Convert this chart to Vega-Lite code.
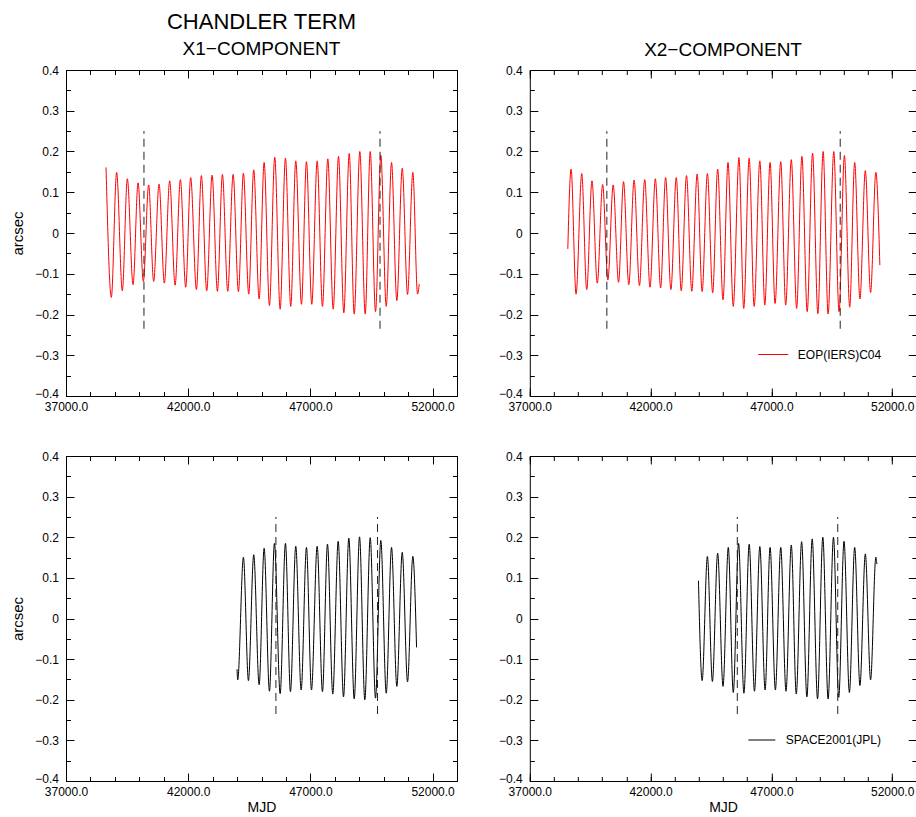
{
  "$schema": "https://vega.github.io/schema/vega-lite/v6.json",
  "background": "white",
  "autosize": {"type": "pad"},
  "padding": {"left": 10, "top": 10, "right": 0, "bottom": 0},
  "datasets": {
    "x1eop": [
      {"mjd": 38638, "v": 0.161}, {"mjd": 38855, "v": -0.158}, {"mjd": 39072, "v": 0.149}, {"mjd": 39305, "v": -0.142},
      {"mjd": 39510, "v": 0.133}, {"mjd": 39744, "v": -0.127}, {"mjd": 39948, "v": 0.123}, {"mjd": 40165, "v": -0.119},
      {"mjd": 40382, "v": 0.118}, {"mjd": 40587, "v": -0.119}, {"mjd": 40808, "v": 0.120}, {"mjd": 41025, "v": -0.123},
      {"mjd": 41242, "v": 0.128}, {"mjd": 41464, "v": -0.128}, {"mjd": 41681, "v": 0.131}, {"mjd": 41898, "v": -0.133},
      {"mjd": 42102, "v": 0.136}, {"mjd": 42336, "v": -0.139}, {"mjd": 42540, "v": 0.141}, {"mjd": 42758, "v": -0.142},
      {"mjd": 42979, "v": 0.142}, {"mjd": 43196, "v": -0.143}, {"mjd": 43401, "v": 0.144}, {"mjd": 43618, "v": -0.143},
      {"mjd": 43839, "v": 0.144}, {"mjd": 44056, "v": -0.144}, {"mjd": 44260, "v": 0.147}, {"mjd": 44477, "v": -0.150},
      {"mjd": 44682, "v": 0.155}, {"mjd": 44903, "v": -0.162}, {"mjd": 45108, "v": 0.173}, {"mjd": 45325, "v": -0.178},
      {"mjd": 45542, "v": 0.186}, {"mjd": 45763, "v": -0.187}, {"mjd": 45980, "v": 0.184}, {"mjd": 46197, "v": -0.180},
      {"mjd": 46402, "v": 0.177}, {"mjd": 46636, "v": -0.175}, {"mjd": 46840, "v": 0.175}, {"mjd": 47057, "v": -0.175},
      {"mjd": 47278, "v": 0.177}, {"mjd": 47495, "v": -0.180}, {"mjd": 47713, "v": 0.182}, {"mjd": 47934, "v": -0.187},
      {"mjd": 48151, "v": 0.188}, {"mjd": 48368, "v": -0.196}, {"mjd": 48589, "v": 0.195}, {"mjd": 48794, "v": -0.199},
      {"mjd": 49023, "v": 0.200}, {"mjd": 49244, "v": -0.199}, {"mjd": 49449, "v": 0.200}, {"mjd": 49666, "v": -0.193},
      {"mjd": 49883, "v": 0.191}, {"mjd": 50104, "v": -0.180}, {"mjd": 50321, "v": 0.173}, {"mjd": 50538, "v": -0.166},
      {"mjd": 50759, "v": 0.159}, {"mjd": 50976, "v": -0.151}, {"mjd": 51193, "v": 0.149}, {"mjd": 51386, "v": -0.150},
      {"mjd": 51455, "v": -0.125}
    ],
    "x2eop": [
      {"mjd": 38573, "v": -0.039}, {"mjd": 38709, "v": 0.157}, {"mjd": 38915, "v": -0.150}, {"mjd": 39150, "v": 0.146},
      {"mjd": 39356, "v": -0.139}, {"mjd": 39574, "v": 0.128}, {"mjd": 39793, "v": -0.123}, {"mjd": 40015, "v": 0.119},
      {"mjd": 40233, "v": -0.115}, {"mjd": 40452, "v": 0.118}, {"mjd": 40674, "v": -0.121}, {"mjd": 40880, "v": 0.126},
      {"mjd": 41098, "v": -0.127}, {"mjd": 41317, "v": 0.130}, {"mjd": 41539, "v": -0.129}, {"mjd": 41757, "v": 0.131},
      {"mjd": 41976, "v": -0.133}, {"mjd": 42198, "v": 0.133}, {"mjd": 42416, "v": -0.135}, {"mjd": 42622, "v": 0.136},
      {"mjd": 42841, "v": -0.139}, {"mjd": 43063, "v": 0.136}, {"mjd": 43269, "v": -0.142}, {"mjd": 43487, "v": 0.141},
      {"mjd": 43706, "v": -0.143}, {"mjd": 43928, "v": 0.145}, {"mjd": 44134, "v": -0.144}, {"mjd": 44352, "v": 0.146},
      {"mjd": 44571, "v": -0.147}, {"mjd": 44777, "v": 0.157}, {"mjd": 44999, "v": -0.164}, {"mjd": 45205, "v": 0.173},
      {"mjd": 45423, "v": -0.180}, {"mjd": 45658, "v": 0.185}, {"mjd": 45856, "v": -0.185}, {"mjd": 46082, "v": 0.184},
      {"mjd": 46288, "v": -0.180}, {"mjd": 46523, "v": 0.177}, {"mjd": 46729, "v": -0.177}, {"mjd": 46947, "v": 0.173},
      {"mjd": 47153, "v": -0.173}, {"mjd": 47388, "v": 0.175}, {"mjd": 47594, "v": -0.177}, {"mjd": 47825, "v": 0.180},
      {"mjd": 48047, "v": -0.185}, {"mjd": 48265, "v": 0.188}, {"mjd": 48484, "v": -0.193}, {"mjd": 48706, "v": 0.196},
      {"mjd": 48925, "v": -0.198}, {"mjd": 49143, "v": 0.200}, {"mjd": 49349, "v": -0.199}, {"mjd": 49584, "v": 0.200},
      {"mjd": 49802, "v": -0.193}, {"mjd": 50024, "v": 0.190}, {"mjd": 50243, "v": -0.182}, {"mjd": 50449, "v": 0.173},
      {"mjd": 50667, "v": -0.162}, {"mjd": 50890, "v": 0.153}, {"mjd": 51108, "v": -0.146}, {"mjd": 51326, "v": 0.149},
      {"mjd": 51491, "v": -0.079}
    ],
    "x1jpl": [
      {"mjd": 44000, "v": -0.125}, {"mjd": 44027, "v": -0.151}, {"mjd": 44260, "v": 0.151}, {"mjd": 44465, "v": -0.153},
      {"mjd": 44682, "v": 0.157}, {"mjd": 44903, "v": -0.163}, {"mjd": 45108, "v": 0.173}, {"mjd": 45325, "v": -0.179},
      {"mjd": 45530, "v": 0.185}, {"mjd": 45763, "v": -0.185}, {"mjd": 45980, "v": 0.185}, {"mjd": 46185, "v": -0.180},
      {"mjd": 46402, "v": 0.178}, {"mjd": 46623, "v": -0.176}, {"mjd": 46840, "v": 0.175}, {"mjd": 47045, "v": -0.176},
      {"mjd": 47278, "v": 0.178}, {"mjd": 47495, "v": -0.180}, {"mjd": 47700, "v": 0.183}, {"mjd": 47917, "v": -0.186},
      {"mjd": 48138, "v": 0.190}, {"mjd": 48356, "v": -0.193}, {"mjd": 48573, "v": 0.198}, {"mjd": 48794, "v": -0.198},
      {"mjd": 49011, "v": 0.201}, {"mjd": 49228, "v": -0.200}, {"mjd": 49449, "v": 0.199}, {"mjd": 49666, "v": -0.196},
      {"mjd": 49883, "v": 0.192}, {"mjd": 50104, "v": -0.184}, {"mjd": 50321, "v": 0.175}, {"mjd": 50538, "v": -0.167},
      {"mjd": 50759, "v": 0.163}, {"mjd": 50976, "v": -0.156}, {"mjd": 51193, "v": 0.153}, {"mjd": 51345, "v": -0.071}
    ],
    "x2jpl": [
      {"mjd": 43982, "v": 0.093}, {"mjd": 44134, "v": -0.153}, {"mjd": 44352, "v": 0.153}, {"mjd": 44558, "v": -0.155},
      {"mjd": 44777, "v": 0.161}, {"mjd": 44999, "v": -0.167}, {"mjd": 45217, "v": 0.175}, {"mjd": 45423, "v": -0.182},
      {"mjd": 45642, "v": 0.185}, {"mjd": 45864, "v": -0.184}, {"mjd": 46082, "v": 0.183}, {"mjd": 46301, "v": -0.179},
      {"mjd": 46523, "v": 0.177}, {"mjd": 46741, "v": -0.176}, {"mjd": 46947, "v": 0.175}, {"mjd": 47166, "v": -0.176},
      {"mjd": 47388, "v": 0.175}, {"mjd": 47606, "v": -0.179}, {"mjd": 47825, "v": 0.181}, {"mjd": 48031, "v": -0.186},
      {"mjd": 48253, "v": 0.189}, {"mjd": 48471, "v": -0.193}, {"mjd": 48690, "v": 0.196}, {"mjd": 48912, "v": -0.198},
      {"mjd": 49130, "v": 0.200}, {"mjd": 49349, "v": -0.198}, {"mjd": 49571, "v": 0.200}, {"mjd": 49789, "v": -0.194},
      {"mjd": 50008, "v": 0.190}, {"mjd": 50230, "v": -0.182}, {"mjd": 50449, "v": 0.175}, {"mjd": 50667, "v": -0.165},
      {"mjd": 50890, "v": 0.159}, {"mjd": 51108, "v": -0.151}, {"mjd": 51326, "v": 0.151}, {"mjd": 51367, "v": 0.134}
    ],
    "dashTop": [{"mjd": 40190, "lo": -0.235, "hi": 0.25}, {"mjd": 49850, "lo": -0.235, "hi": 0.25}],
    "dashBottom": [{"mjd": 45590, "lo": -0.235, "hi": 0.25}, {"mjd": 49748, "lo": -0.235, "hi": 0.25}]
  },
  "columns": 2,
  "spacing": {"row": 60, "column": 72.8},
  "bounds": "flush",
  "resolve": {"scale": {"color": "independent"}, "legend": {"color": "independent"}},
  "concat": [
    {
      "width": 391, "height": 326,
      "title": {"text": "CHANDLER TERM", "subtitle": "X1−COMPONENT", "fontSize": 22, "subtitleFontSize": 19, "subtitlePadding": 6, "offset": 4},
      "layer": [
        {"data": {"name": "x1eop"}, "mark": {"type": "line", "color": "#ff0000", "strokeWidth": 1, "interpolate": "monotone"},
         "encoding": {
           "x": {"field": "mjd", "type": "quantitative", "scale": {"domain": [37000, 53000], "nice": false, "zero": false},
                 "axis": {"orient": "bottom", "values": [37000, 42000, 47000, 52000], "format": ".1f", "tickSize": -8, "labelPadding": 13.5, "title": null}},
           "y": {"field": "v", "type": "quantitative", "scale": {"domain": [-0.4, 0.4], "nice": false, "zero": false},
                 "axis": {"orient": "left", "values": [-0.4, -0.3, -0.2, -0.1, 0, 0.1, 0.2, 0.3, 0.4], "format": ".1~f", "tickSize": -8, "labelPadding": 15.5, "labelOffset": {"condition": {"test": "datum.value < -0.39", "value": -2.5}, "value": 0}, "title": "arcsec", "titleFontSize": 15, "titlePadding": 9}}
         }},
        {"data": {"name": "dashTop"}, "mark": {"type": "rule", "strokeDash": [8, 5], "color": "#222222", "strokeWidth": 1},
         "encoding": {
           "x": {"field": "mjd", "type": "quantitative", "axis": {"orient": "bottom", "values": [37000, 38000, 39000, 40000, 41000, 42000, 43000, 44000, 45000, 46000, 47000, 48000, 49000, 50000, 51000, 52000, 53000], "labels": false, "tickSize": -4.5, "title": null}},
           "y": {"field": "lo", "type": "quantitative", "axis": {"orient": "left", "values": [-0.4, -0.35, -0.3, -0.25, -0.2, -0.15, -0.1, -0.05, 0, 0.05, 0.1, 0.15, 0.2, 0.25, 0.3, 0.35, 0.4], "labels": false, "tickSize": -4.5, "title": null}},
           "y2": {"field": "hi"}
         }},
        {"data": {"name": "x1eop"}, "mark": {"type": "point", "opacity": 0, "size": 0},
         "encoding": {
           "x": {"field": "mjd", "type": "quantitative", "axis": {"orient": "top", "values": [37000, 42000, 47000, 52000], "labels": false, "tickSize": -8, "title": null}},
           "y": {"field": "v", "type": "quantitative", "axis": {"orient": "right", "values": [-0.4, -0.3, -0.2, -0.1, 0, 0.1, 0.2, 0.3, 0.4], "labels": false, "tickSize": -8, "title": null}}
         }},
        {"data": {"name": "x1eop"}, "mark": {"type": "point", "opacity": 0, "size": 0},
         "encoding": {
           "x": {"field": "mjd", "type": "quantitative", "axis": {"orient": "top", "values": [37000, 38000, 39000, 40000, 41000, 42000, 43000, 44000, 45000, 46000, 47000, 48000, 49000, 50000, 51000, 52000, 53000], "labels": false, "tickSize": -4.5, "title": null}},
           "y": {"field": "v", "type": "quantitative", "axis": {"orient": "right", "values": [-0.4, -0.35, -0.3, -0.25, -0.2, -0.15, -0.1, -0.05, 0, 0.05, 0.1, 0.15, 0.2, 0.25, 0.3, 0.35, 0.4], "labels": false, "tickSize": -4.5, "title": null}}
         }}
      ],
      "resolve": {"axis": {"x": "independent", "y": "independent"}}
    },
    {
      "width": 386.5, "height": 326,
      "title": {"text": "X2−COMPONENT", "fontSize": 19, "offset": 4},
      "layer": [
        {"data": {"name": "x2eop"}, "mark": {"type": "line", "strokeWidth": 1, "interpolate": "monotone"},
         "encoding": {
           "x": {"field": "mjd", "type": "quantitative", "scale": {"domain": [37000, 53000], "nice": false, "zero": false},
                 "axis": {"orient": "bottom", "values": [37000, 42000, 47000, 52000], "format": ".1f", "tickSize": -8, "labelPadding": 13.5, "title": null}},
           "y": {"field": "v", "type": "quantitative", "scale": {"domain": [-0.4, 0.4], "nice": false, "zero": false},
                 "axis": {"orient": "left", "values": [-0.4, -0.3, -0.2, -0.1, 0, 0.1, 0.2, 0.3, 0.4], "format": ".1~f", "tickSize": -8, "labelPadding": 15.5, "labelOffset": {"condition": {"test": "datum.value < -0.39", "value": -2.5}, "value": 0}, "title": null}},
           "color": {"datum": "EOP(IERS)C04", "type": "nominal", "scale": {"range": ["#ff0000"]},
                     "legend": {"orient": "bottom-right", "offset": 35, "title": null, "symbolType": "stroke", "symbolSize": 900, "symbolStrokeWidth": 1, "labelFontSize": 12, "labelOffset": 9, "padding": 0}}
         }},
        {"data": {"name": "dashTop"}, "mark": {"type": "rule", "strokeDash": [8, 5], "color": "#222222", "strokeWidth": 1},
         "encoding": {
           "x": {"field": "mjd", "type": "quantitative", "axis": {"orient": "bottom", "values": [37000, 38000, 39000, 40000, 41000, 42000, 43000, 44000, 45000, 46000, 47000, 48000, 49000, 50000, 51000, 52000, 53000], "labels": false, "tickSize": -4.5, "title": null}},
           "y": {"field": "lo", "type": "quantitative", "axis": {"orient": "left", "values": [-0.4, -0.35, -0.3, -0.25, -0.2, -0.15, -0.1, -0.05, 0, 0.05, 0.1, 0.15, 0.2, 0.25, 0.3, 0.35, 0.4], "labels": false, "tickSize": -4.5, "title": null}},
           "y2": {"field": "hi"}
         }},
        {"data": {"name": "x2eop"}, "mark": {"type": "point", "opacity": 0, "size": 0},
         "encoding": {
           "x": {"field": "mjd", "type": "quantitative", "axis": {"orient": "top", "values": [37000, 42000, 47000, 52000], "labels": false, "tickSize": -8, "title": null}},
           "y": {"field": "v", "type": "quantitative", "axis": {"orient": "right", "values": [-0.4, -0.3, -0.2, -0.1, 0, 0.1, 0.2, 0.3, 0.4], "labels": false, "tickSize": -8, "title": null}}
         }},
        {"data": {"name": "x2eop"}, "mark": {"type": "point", "opacity": 0, "size": 0},
         "encoding": {
           "x": {"field": "mjd", "type": "quantitative", "axis": {"orient": "top", "values": [37000, 38000, 39000, 40000, 41000, 42000, 43000, 44000, 45000, 46000, 47000, 48000, 49000, 50000, 51000, 52000, 53000], "labels": false, "tickSize": -4.5, "title": null}},
           "y": {"field": "v", "type": "quantitative", "axis": {"orient": "right", "values": [-0.4, -0.35, -0.3, -0.25, -0.2, -0.15, -0.1, -0.05, 0, 0.05, 0.1, 0.15, 0.2, 0.25, 0.3, 0.35, 0.4], "labels": false, "tickSize": -4.5, "title": null}}
         }}
      ],
      "resolve": {"axis": {"x": "independent", "y": "independent"}}
    },
    {
      "width": 391, "height": 325,
      "layer": [
        {"data": {"name": "x1jpl"}, "mark": {"type": "line", "color": "#000000", "strokeWidth": 1, "interpolate": "monotone"},
         "encoding": {
           "x": {"field": "mjd", "type": "quantitative", "scale": {"domain": [37000, 53000], "nice": false, "zero": false},
                 "axis": {"orient": "bottom", "values": [37000, 42000, 47000, 52000], "format": ".1f", "tickSize": -8, "labelPadding": 13.5, "title": "MJD", "titleFontSize": 14, "titlePadding": 3}},
           "y": {"field": "v", "type": "quantitative", "scale": {"domain": [-0.4, 0.4], "nice": false, "zero": false},
                 "axis": {"orient": "left", "values": [-0.4, -0.3, -0.2, -0.1, 0, 0.1, 0.2, 0.3, 0.4], "format": ".1~f", "tickSize": -8, "labelPadding": 15.5, "labelOffset": {"condition": {"test": "datum.value < -0.39", "value": -2.5}, "value": 0}, "title": "arcsec", "titleFontSize": 15, "titlePadding": 9}}
         }},
        {"data": {"name": "dashBottom"}, "mark": {"type": "rule", "strokeDash": [8, 5], "color": "#222222", "strokeWidth": 1},
         "encoding": {
           "x": {"field": "mjd", "type": "quantitative", "axis": {"orient": "bottom", "values": [37000, 38000, 39000, 40000, 41000, 42000, 43000, 44000, 45000, 46000, 47000, 48000, 49000, 50000, 51000, 52000, 53000], "labels": false, "tickSize": -4.5, "title": null}},
           "y": {"field": "lo", "type": "quantitative", "axis": {"orient": "left", "values": [-0.4, -0.35, -0.3, -0.25, -0.2, -0.15, -0.1, -0.05, 0, 0.05, 0.1, 0.15, 0.2, 0.25, 0.3, 0.35, 0.4], "labels": false, "tickSize": -4.5, "title": null}},
           "y2": {"field": "hi"}
         }},
        {"data": {"name": "x1jpl"}, "mark": {"type": "point", "opacity": 0, "size": 0},
         "encoding": {
           "x": {"field": "mjd", "type": "quantitative", "axis": {"orient": "top", "values": [37000, 42000, 47000, 52000], "labels": false, "tickSize": -8, "title": null}},
           "y": {"field": "v", "type": "quantitative", "axis": {"orient": "right", "values": [-0.4, -0.3, -0.2, -0.1, 0, 0.1, 0.2, 0.3, 0.4], "labels": false, "tickSize": -8, "title": null}}
         }},
        {"data": {"name": "x1jpl"}, "mark": {"type": "point", "opacity": 0, "size": 0},
         "encoding": {
           "x": {"field": "mjd", "type": "quantitative", "axis": {"orient": "top", "values": [37000, 38000, 39000, 40000, 41000, 42000, 43000, 44000, 45000, 46000, 47000, 48000, 49000, 50000, 51000, 52000, 53000], "labels": false, "tickSize": -4.5, "title": null}},
           "y": {"field": "v", "type": "quantitative", "axis": {"orient": "right", "values": [-0.4, -0.35, -0.3, -0.25, -0.2, -0.15, -0.1, -0.05, 0, 0.05, 0.1, 0.15, 0.2, 0.25, 0.3, 0.35, 0.4], "labels": false, "tickSize": -4.5, "title": null}}
         }}
      ],
      "resolve": {"axis": {"x": "independent", "y": "independent"}}
    },
    {
      "width": 386.5, "height": 325,
      "layer": [
        {"data": {"name": "x2jpl"}, "mark": {"type": "line", "strokeWidth": 1, "interpolate": "monotone"},
         "encoding": {
           "x": {"field": "mjd", "type": "quantitative", "scale": {"domain": [37000, 53000], "nice": false, "zero": false},
                 "axis": {"orient": "bottom", "values": [37000, 42000, 47000, 52000], "format": ".1f", "tickSize": -8, "labelPadding": 13.5, "title": "MJD", "titleFontSize": 14, "titlePadding": 3}},
           "y": {"field": "v", "type": "quantitative", "scale": {"domain": [-0.4, 0.4], "nice": false, "zero": false},
                 "axis": {"orient": "left", "values": [-0.4, -0.3, -0.2, -0.1, 0, 0.1, 0.2, 0.3, 0.4], "format": ".1~f", "tickSize": -8, "labelPadding": 15.5, "labelOffset": {"condition": {"test": "datum.value < -0.39", "value": -2.5}, "value": 0}, "title": null}},
           "color": {"datum": "SPACE2001(JPL)", "type": "nominal", "scale": {"range": ["#000000"]},
                     "legend": {"orient": "bottom-right", "offset": 35, "title": null, "symbolType": "stroke", "symbolSize": 729, "symbolStrokeWidth": 1, "labelFontSize": 12, "labelOffset": 10, "padding": 0}}
         }},
        {"data": {"name": "dashBottom"}, "mark": {"type": "rule", "strokeDash": [8, 5], "color": "#222222", "strokeWidth": 1},
         "encoding": {
           "x": {"field": "mjd", "type": "quantitative", "axis": {"orient": "bottom", "values": [37000, 38000, 39000, 40000, 41000, 42000, 43000, 44000, 45000, 46000, 47000, 48000, 49000, 50000, 51000, 52000, 53000], "labels": false, "tickSize": -4.5, "title": null}},
           "y": {"field": "lo", "type": "quantitative", "axis": {"orient": "left", "values": [-0.4, -0.35, -0.3, -0.25, -0.2, -0.15, -0.1, -0.05, 0, 0.05, 0.1, 0.15, 0.2, 0.25, 0.3, 0.35, 0.4], "labels": false, "tickSize": -4.5, "title": null}},
           "y2": {"field": "hi"}
         }},
        {"data": {"name": "x2jpl"}, "mark": {"type": "point", "opacity": 0, "size": 0},
         "encoding": {
           "x": {"field": "mjd", "type": "quantitative", "axis": {"orient": "top", "values": [37000, 42000, 47000, 52000], "labels": false, "tickSize": -8, "title": null}},
           "y": {"field": "v", "type": "quantitative", "axis": {"orient": "right", "values": [-0.4, -0.3, -0.2, -0.1, 0, 0.1, 0.2, 0.3, 0.4], "labels": false, "tickSize": -8, "title": null}}
         }},
        {"data": {"name": "x2jpl"}, "mark": {"type": "point", "opacity": 0, "size": 0},
         "encoding": {
           "x": {"field": "mjd", "type": "quantitative", "axis": {"orient": "top", "values": [37000, 38000, 39000, 40000, 41000, 42000, 43000, 44000, 45000, 46000, 47000, 48000, 49000, 50000, 51000, 52000, 53000], "labels": false, "tickSize": -4.5, "title": null}},
           "y": {"field": "v", "type": "quantitative", "axis": {"orient": "right", "values": [-0.4, -0.35, -0.3, -0.25, -0.2, -0.15, -0.1, -0.05, 0, 0.05, 0.1, 0.15, 0.2, 0.25, 0.3, 0.35, 0.4], "labels": false, "tickSize": -4.5, "title": null}}
         }}
      ],
      "resolve": {"axis": {"x": "independent", "y": "independent"}}
    }
  ],
  "config": {
    "font": "Liberation Sans",
    "view": {"stroke": "#000000", "strokeWidth": 1},
    "axis": {"domain": false, "grid": false, "tickColor": "#000000", "tickWidth": 1, "labelColor": "#000000", "labelFontSize": 12, "labelFont": "Liberation Sans", "titleFont": "Liberation Sans", "titleFontWeight": "normal", "titleColor": "#000000", "labelFlush": false, "labelOverlap": false, "labelBound": false},
    "legend": {"labelFont": "Liberation Sans", "labelColor": "#000000"},
    "title": {"font": "Liberation Sans", "fontWeight": "normal", "color": "#000000", "subtitleFont": "Liberation Sans", "subtitleColor": "#000000", "anchor": "middle", "frame": "group"}
  }
}
